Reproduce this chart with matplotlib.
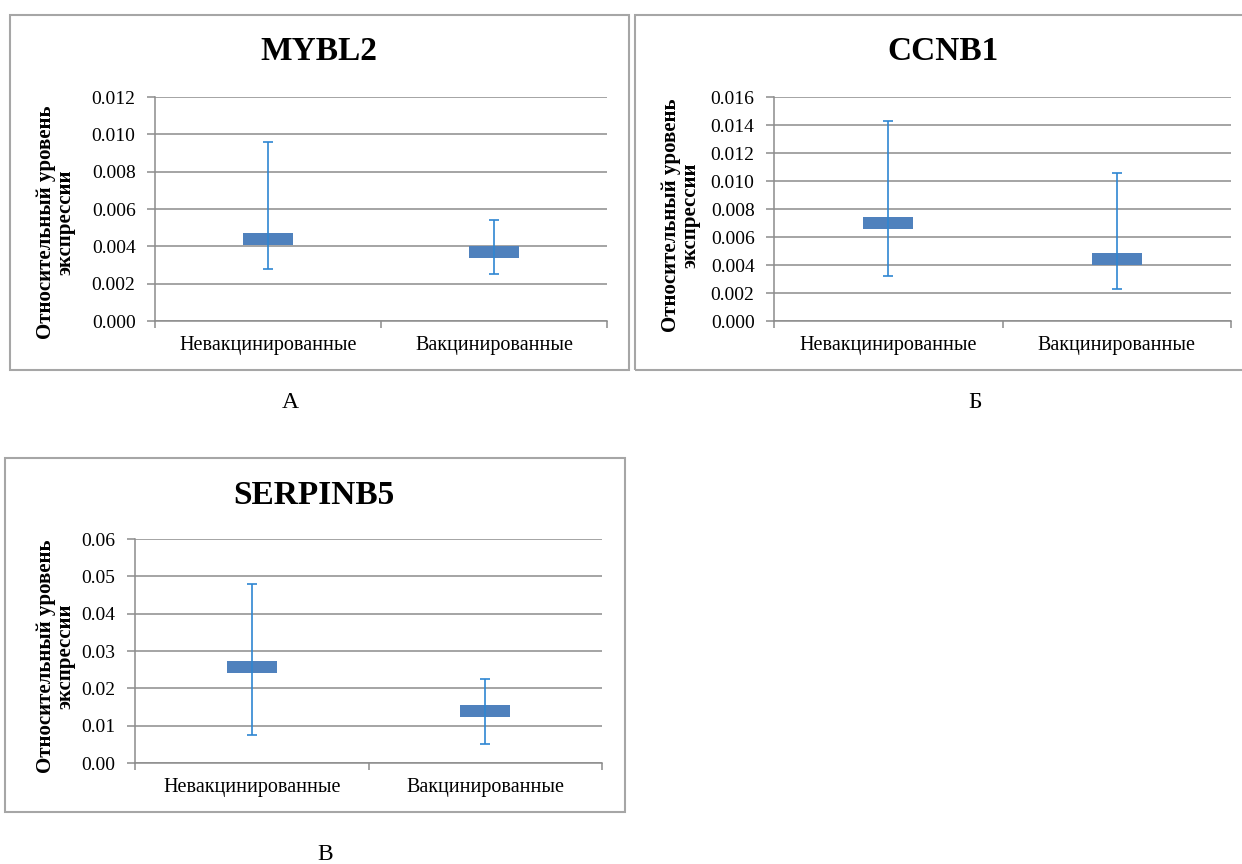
import numpy as np
import matplotlib.pyplot as plt
from matplotlib.path import Path
from matplotlib.patches import Rectangle

plt.rcParams['font.family'] = ['Liberation Serif', 'DejaVu Serif']

# Данные
categories = ['Невакцинированные', 'Вакцинированные']
genes = ['MYBL2', 'CCNB1', 'SERPINB5']
panel_letters = ['А', 'Б', 'В']

mybl2_mid = [0.0044, 0.0037]
mybl2_high = [0.0096, 0.0054]
mybl2_low = [0.0028, 0.0025]

ccnb1_mid = [0.0070, 0.0044]
ccnb1_high = [0.0143, 0.0106]
ccnb1_low = [0.0032, 0.0023]

serpinb5_mid = [0.0258, 0.0140]
serpinb5_high = [0.0479, 0.0225]
serpinb5_low = [0.0076, 0.0052]

y_max = [0.012, 0.016, 0.06]
y_step = [0.002, 0.002, 0.01]
y_fmt = ['%.3f', '%.3f', '%.2f']

W, H = 1242, 864
fig = plt.figure(figsize=(W / 100, H / 100), dpi=100)


def fx(px):
    return px / W


def fy(py):
    return 1 - py / H


# Рамки вокруг диаграмм (как в Excel)
frames = [(10, 15, 629, 370), (635, 15, 1250, 370), (5, 458, 625, 812)]
for x0, y0, x1, y1 in frames:
    fig.patches.append(Rectangle((fx(x0), fy(y1)), fx(x1 - x0), (y1 - y0) / H,
                                 transform=fig.transFigure, fill=False,
                                 edgecolor='#a6a6a6', linewidth=1.5))

# Положение осей: left, top, right, bottom в пикселях
axes_px = [(155, 97, 607, 321), (774, 97, 1231, 321), (135, 539, 602, 763)]
titles_px = [(319, 52), (943, 52), (314, 496)]
ylabels_px = [(56, 222), (681, 215), (56, 656)]
letters_px = [(290, 403), (975, 403), (325, 855)]

data = [(mybl2_mid, mybl2_high, mybl2_low),
        (ccnb1_mid, ccnb1_high, ccnb1_low),
        (serpinb5_mid, serpinb5_high, serpinb5_low)]

# Маркер - горизонтальный прямоугольник
r = 11 / 49
box = Path([(-1, -r), (1, -r), (1, r), (-1, r), (-1, -r)],
           [Path.MOVETO, Path.LINETO, Path.LINETO, Path.LINETO, Path.CLOSEPOLY])

grid_color = '#8c8c8c'
x = np.array([0.5, 1.5])

for i, (mid, high, low) in enumerate(data):
    l, t, rr, b = axes_px[i]
    ax = fig.add_axes([fx(l), fy(b), fx(rr - l), (b - t) / H])
    mid = np.array(mid)
    yerr = [mid - np.array(low), np.array(high) - mid]

    ax.plot(x, mid, linestyle='none', marker=box, markersize=35.3,
            color='#4f81bd', markeredgewidth=0, zorder=3)
    ax.errorbar(x, mid, yerr=yerr, fmt='none', ecolor='#2f86d2',
                elinewidth=1.2, capsize=3.6, capthick=1.2, zorder=4)

    ax.set_xlim(0, 2)
    ax.set_ylim(0, y_max[i])
    ax.set_yticks(np.arange(0, y_max[i] + y_step[i] / 2, y_step[i]))
    ax.yaxis.set_major_formatter(plt.FormatStrFormatter(y_fmt[i]))
    ax.grid(axis='y', color=grid_color, linewidth=1.1)
    ax.set_axisbelow(True)

    ax.set_xticks([0, 1, 2])
    ax.set_xticklabels([])
    ax.set_xticks(x, minor=True)
    ax.set_xticklabels(categories, minor=True, fontsize=14.5)
    ax.tick_params(axis='x', which='minor', length=0, pad=11)
    ax.tick_params(axis='x', which='major', length=5, color=grid_color,
                   width=1.1)
    ax.tick_params(axis='y', length=6, color=grid_color, width=1.1,
                   labelsize=14, pad=8)

    for s in ['top', 'right']:
        ax.spines[s].set_visible(False)
    for s in ['left', 'bottom']:
        ax.spines[s].set_color(grid_color)
        ax.spines[s].set_linewidth(1.1)

    tx, ty = titles_px[i]
    fig.text(fx(tx), fy(ty), genes[i], ha='center', va='center',
             fontsize=24, fontweight='bold')
    lx, ly = ylabels_px[i]
    fig.text(fx(lx), fy(ly), 'Относительный уровень\nэкспрессии',
             ha='center', va='center', rotation=90, multialignment='center',
             fontsize=15, fontweight='bold', linespacing=1.0)
    px, py = letters_px[i]
    fig.text(fx(px), fy(py), panel_letters[i], ha='center', va='center',
             fontsize=17)

fig.savefig('out.png', dpi=100, facecolor='white')
